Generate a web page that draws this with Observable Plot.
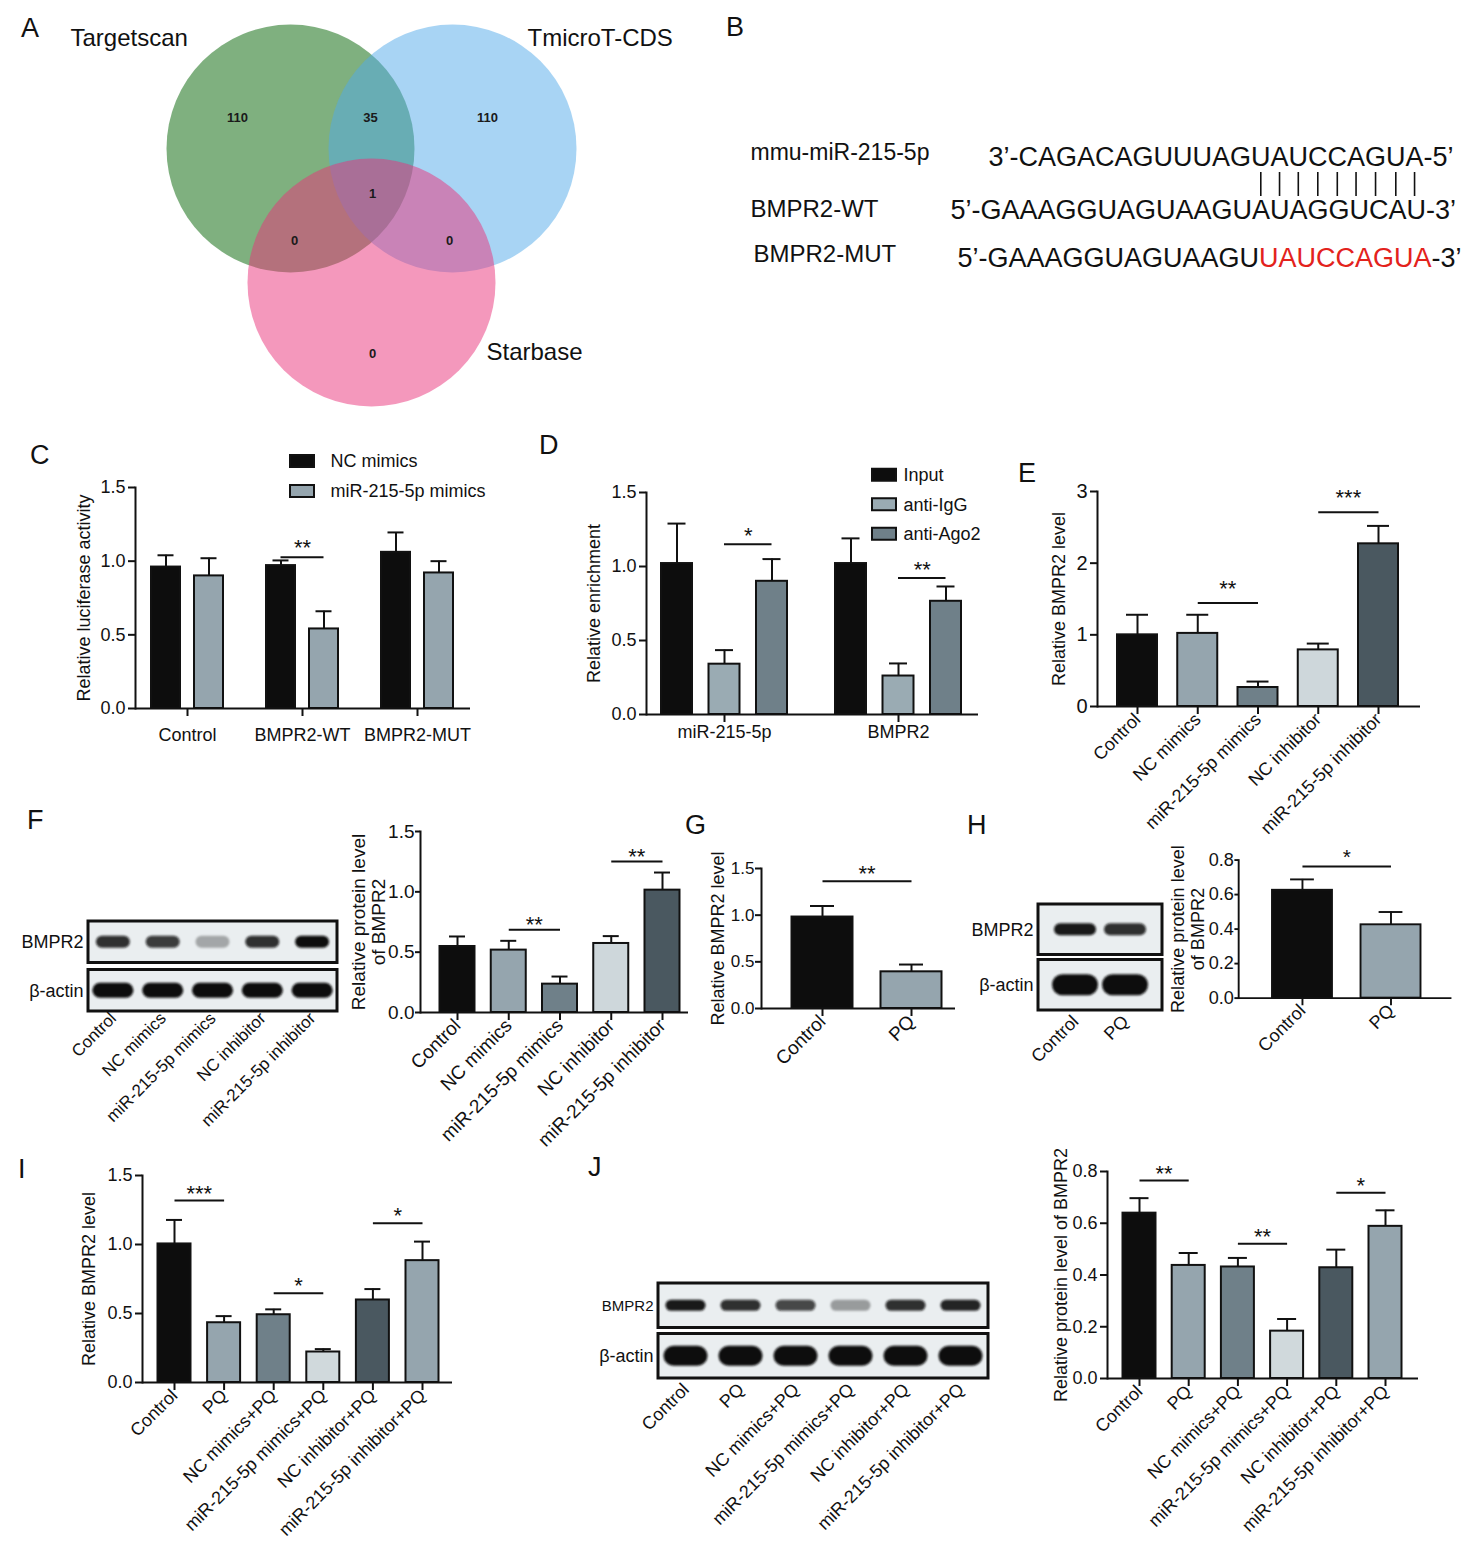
<!DOCTYPE html>
<html><head><meta charset="utf-8">
<script src="https://cdn.jsdelivr.net/npm/d3@7"></script>
<script src="https://cdn.jsdelivr.net/npm/@observablehq/plot@0.6"></script>
<style>
body{margin:0;background:#fff;}
#page{position:relative;width:1480px;height:1550px;overflow:hidden;background:#fff;font-family:"Liberation Sans",Arial,Helvetica,sans-serif;}
.panel{position:absolute;}
.letter{position:absolute;font-size:27px;line-height:1;color:#111;}
</style></head>
<body><div id="page"></div>
<script>
// ---------------- DATA ----------------
// A: Venn
const vennSets = ["Targetscan", "TmicroT-CDS", "Starbase"];
const vennRegions = ["Targetscan only", "Targetscan ∩ TmicroT-CDS", "TmicroT-CDS only", "all three", "Targetscan ∩ Starbase", "TmicroT-CDS ∩ Starbase", "Starbase only"];
const vennCounts = [110, 35, 110, 1, 0, 0, 0];
// B: sequences
const seqNames = ["mmu-miR-215-5p", "BMPR2-WT", "BMPR2-MUT"];
const seqMiR = "3’-CAGACAGUUUAGUAUCCAGUA-5’";
const seqWT = "5’-GAAAGGUAGUAAGUAUAGGUCAU-3’";
const seqMUTparts = ["5’-GAAAGGUAGUAAGU", "UAUCCAGUA", "-3’"];
const seedPairCount = 9;
// C: luciferase
const cGroups = ["Control", "BMPR2-WT", "BMPR2-MUT"];
const cSeries = ["NC mimics", "miR-215-5p mimics"];
const cNC = [0.96, 0.97, 1.06];
const cNCsem = [0.08, 0.035, 0.135];
const cMiR = [0.90, 0.54, 0.92];
const cMiRsem = [0.12, 0.12, 0.08];
const cSig = [{group: "BMPR2-WT", y: 1.026, label: "**"}];
// D: RIP
const dGroups = ["miR-215-5p", "BMPR2"];
const dSeries = ["Input", "anti-IgG", "anti-Ago2"];
const dInput = [1.02, 1.02];
const dInputSem = [0.27, 0.17];
const dIgG = [0.34, 0.26];
const dIgGsem = [0.095, 0.085];
const dAgo2 = [0.90, 0.765];
const dAgo2sem = [0.15, 0.10];
const dSig = [{group: "miR-215-5p", y: 1.15, label: "*"}, {group: "BMPR2", y: 0.923, label: "**"}];
// E / F categories
const efCats = ["Control", "NC mimics", "miR-215-5p mimics", "NC inhibitor", "miR-215-5p inhibitor"];
const eMean = [1.0, 1.02, 0.265, 0.79, 2.27];
const eSem = [0.28, 0.26, 0.083, 0.088, 0.25];
const eSig = [{from: "NC mimics", to: "miR-215-5p mimics", y: 1.444, label: "**"}, {from: "NC inhibitor", to: "miR-215-5p inhibitor", y: 2.71, label: "***"}];
const fMean = [0.547, 0.517, 0.235, 0.572, 1.014];
const fSem = [0.083, 0.077, 0.063, 0.061, 0.146];
const fSig = [{from: "NC mimics", to: "miR-215-5p mimics", y: 0.685, label: "**"}, {from: "NC inhibitor", to: "miR-215-5p inhibitor", y: 1.251, label: "**"}];
const blotRows = ["BMPR2", "β-actin"];
const fBlotBMPR2 = [0.85, 0.8, 0.3, 0.85, 1.0];
const fBlotActin = [1, 1, 1, 1, 1];
// G / H
const ghCats = ["Control", "PQ"];
const gMean = [0.98, 0.393];
const gSem = [0.118, 0.078];
const gSig = [{from: "Control", to: "PQ", y: 1.364, label: "**"}];
const hMean = [0.625, 0.425];
const hSem = [0.063, 0.074];
const hSig = [{from: "Control", to: "PQ", y: 0.763, label: "*"}];
const hBlotBMPR2 = [0.95, 0.85];
const hBlotActin = [1, 1];
// I / J
const ijCats = ["Control", "PQ", "NC mimics+PQ", "miR-215-5p mimics+PQ", "NC inhibitor+PQ", "miR-215-5p inhibitor+PQ"];
const iMean = [1.004, 0.433, 0.491, 0.221, 0.598, 0.883];
const iSem = [0.174, 0.048, 0.039, 0.021, 0.079, 0.138];
const iSig = [{from: "Control", to: "PQ", y: 1.319, label: "***"}, {from: "NC mimics+PQ", to: "miR-215-5p mimics+PQ", y: 0.646, label: "*"}, {from: "NC inhibitor+PQ", to: "miR-215-5p inhibitor+PQ", y: 1.154, label: "*"}];
const jMean = [0.639, 0.437, 0.431, 0.183, 0.428, 0.588];
const jSem = [0.058, 0.048, 0.035, 0.047, 0.07, 0.062];
const jSig = [{from: "Control", to: "PQ", y: 0.765, label: "**"}, {from: "NC mimics+PQ", to: "miR-215-5p mimics+PQ", y: 0.521, label: "**"}, {from: "NC inhibitor+PQ", to: "miR-215-5p inhibitor+PQ", y: 0.718, label: "*"}];
const jBlotBMPR2 = [0.95, 0.85, 0.75, 0.35, 0.85, 0.9];
const jBlotActin = [1, 1, 1, 1, 1, 1];
// tick values
const ticks15 = [0, 0.5, 1.0, 1.5];
const ticks3 = [0, 1, 2, 3];
const ticks08 = [0, 0.2, 0.4, 0.6, 0.8];

// ---------------- STYLE / LAYOUT ----------------
const FONT = "'Liberation Sans', Arial, Helvetica, sans-serif";
const INK = "#111";
const BLACK = "#0d0d0d", GREY = "#95a5ae", SLATE = "#6f8089", PALE = "#ced7db", DARK = "#4a5860";
const fmt1 = d3.format(".1f"), fmt0 = d3.format("d");
const page = document.getElementById("page");

function place(node, left, top) {
  const div = document.createElement("div");
  div.className = "panel";
  div.style.left = left + "px";
  div.style.top = top + "px";
  div.appendChild(node);
  page.appendChild(div);
}
function letter(ch, cx, cy) {
  const d = document.createElement("div");
  d.className = "letter";
  d.textContent = ch;
  d.style.left = (cx - 9) + "px";
  d.style.top = (cy - 14.5) + "px";
  page.appendChild(d);
}
function baseStyle(fs) {
  return {fontFamily: FONT, fontSize: fs + "px", color: INK, background: "transparent", overflow: "visible"};
}
function bandLayout(X0, X1, c0, cN, n, bw) {
  const span = X1 - X0;
  const step = n > 1 ? (cN - c0) / (n - 1) : span;
  const pi = Math.max(0, 1 - bw / step);
  const po = Math.max(0, (span / step - n + pi) / 2);
  const st = span / (n - pi + 2 * po);
  const extra = span - st * (n - pi);
  const align = extra > 0.01 ? Math.min(1, Math.max(0, (c0 - bw / 2 - X0) / extra)) : 0.5;
  return {step: st, paddingInner: pi, paddingOuter: po, align};
}
function axisMarks(c) {
  const yfs = c.yfs ?? c.fs, lfs = c.labelFs ?? c.fs;
  return [
    Plot.ruleY([0], {stroke: INK, strokeWidth: 2}),
    Plot.frame({anchor: "left", stroke: INK, strokeWidth: 2}),
    Plot.axisY(c.yTicks, {tickSize: c.yTickSize ?? 7, tickPadding: c.yTickPad ?? 3, tickFormat: c.yFmt, strokeWidth: 2, label: null, fontSize: yfs}),
    Plot.axisX({tickSize: 8, tickPadding: c.tickPadding, tickRotate: c.rotate, strokeWidth: 2, label: null, fontSize: c.fs}),
    Plot.text([c.ylabel], {text: d => d, frameAnchor: "left", textAnchor: "middle", lineAnchor: "middle", rotate: -90,
      dx: -c.ylabelOffset, fontSize: lfs, lineHeight: c.lineHeight ?? 1.1})
  ];
}

function barChart(c) {
  const mL = 100, mR = 30, mT = 50, mB = 220;
  const W = c.X1 - c.X0 + mL + mR, H = c.Ybot - c.Ytop + mT + mB;
  const L = bandLayout(c.X0, c.X1, c.c0, c.cN, c.cats.length, c.bw);
  const rows = c.cats.map((cat, i) => ({cat, mean: c.means[i], top: c.means[i] + c.sems[i], fill: c.colors[i]}));
  const capIn = (L.step * (1 - L.paddingInner) - c.cap) / 2;
  const svg = Plot.plot({
    width: W, height: H, marginLeft: mL, marginRight: mR, marginTop: mT, marginBottom: mB,
    style: baseStyle(c.fs),
    x: {domain: c.cats, paddingInner: L.paddingInner, paddingOuter: L.paddingOuter, align: L.align, round: false},
    y: {domain: [0, c.yMax]},
    color: {type: "identity"},
    marks: [
      Plot.barY(rows, {x: "cat", y: "mean", fill: "fill", stroke: INK, strokeWidth: 2}),
      Plot.ruleX(rows, {x: "cat", y1: "mean", y2: "top", stroke: INK, strokeWidth: 2}),
      Plot.tickY(rows, {x: "cat", y: "top", stroke: INK, strokeWidth: 2, insetLeft: capIn, insetRight: capIn}),
      ...axisMarks(c),
      Plot.link(c.sig, {x1: "from", x2: "to", y1: "y", y2: "y", stroke: INK, strokeWidth: 2}),
      Plot.text(c.sig, {x: "from", y: "y", text: "label", dx: L.step / 2, dy: c.starDy, fontSize: 22})
    ]
  });
  place(svg, c.X0 - mL, c.Ytop - mT);
}

function groupedChart(c) {
  const mL = 100, mR = 30, mT = 50, mB = 80;
  const W = c.X1 - c.X0 + mL + mR, H = c.Ybot - c.Ytop + mT + mB;
  const L = bandLayout(c.X0, c.X1, c.c0, c.cN, c.groups.length, c.bwG);
  const half = L.step * (1 - L.paddingInner) / 2;
  const marks = [];
  c.series.forEach((s, k) => {
    const off = c.offsets[k];
    const rows = c.groups.map((g, i) => ({g, mean: c.means[k][i], top: c.means[k][i] + c.sems[k][i]}));
    marks.push(
      Plot.barY(rows, {x: "g", y: "mean", fill: c.colors[k], stroke: INK, strokeWidth: 2, insetLeft: half + off - c.w / 2, insetRight: half - off - c.w / 2}),
      Plot.ruleX(rows, {x: "g", y1: "mean", y2: "top", dx: off, stroke: INK, strokeWidth: 2}),
      Plot.tickY(rows, {x: "g", y: "top", stroke: INK, strokeWidth: 2, insetLeft: half + off - c.cap / 2, insetRight: half - off - c.cap / 2})
    );
  });
  const oa = c.offsets[c.sigPair[0]], ob = c.offsets[c.sigPair[1]];
  marks.push(
    ...axisMarks(c),
    Plot.ruleY(c.sig, {x1: "group", x2: "group", y: "y", stroke: INK, strokeWidth: 2, insetLeft: half + oa, insetRight: half - ob}),
    Plot.text(c.sig, {x: "group", y: "y", text: "label", dx: (oa + ob) / 2, dy: c.starDy, fontSize: 22})
  );
  const svg = Plot.plot({
    width: W, height: H, marginLeft: mL, marginRight: mR, marginTop: mT, marginBottom: mB,
    style: baseStyle(c.fs),
    x: {domain: c.groups, paddingInner: L.paddingInner, paddingOuter: L.paddingOuter, align: L.align, round: false},
    y: {domain: [0, c.yMax]},
    marks
  });
  place(svg, c.X0 - mL, c.Ytop - mT);
}

function legend(c) {
  const n = c.labels.length, W = 240, Hh = n * c.spacing;
  const svg = Plot.plot({
    width: W, height: Hh, margin: 0,
    style: baseStyle(18),
    y: {domain: c.labels, padding: 0, round: false, axis: null},
    color: {type: "identity"},
    marks: [
      Plot.cell(c.labels, {y: d => d, fill: (d, i) => c.colors[i], stroke: INK, strokeWidth: 2,
        insetRight: W - c.sw, insetTop: (c.spacing - c.sh) / 2, insetBottom: (c.spacing - c.sh) / 2}),
      Plot.text(c.labels, {y: d => d, text: d => d, frameAnchor: "left", textAnchor: "start", dx: c.textOffset, fontSize: 18})
    ]
  });
  place(svg, c.left, c.firstCenter - c.spacing / 2);
}

let filterId = 0;
function blot(c) {
  const mL = 100, mR = 20, mT = 10, mB = 230;
  const W = c.X1 - c.X0 + mL + mR, H = c.Y1 - c.Y0 + mT + mB;
  const rowStep = (c.Y1 - c.Y0 + c.gap) / 2;
  const rowH = rowStep - c.gap;
  const laneStep = (c.X1 - c.X0) / (c.lanes.length + 2 * c.lanePadOuter);
  const bandMarks = c.rows.map((r, k) => {
    const bands = c.lanes.map((l, i) => ({lane: l, row: r, level: c.levels[k][i]}));
    return Plot.cell(bands, {x: "lane", y: "row", fill: "#0e0e0e", fillOpacity: "level",
      insetLeft: (laneStep - c.bandW[k]) / 2, insetRight: (laneStep - c.bandW[k]) / 2,
      insetTop: (rowH - c.bandH[k]) / 2, insetBottom: (rowH - c.bandH[k]) / 2,
      rx: c.bandH[k] / 2, ariaDescription: "bands"});
  });
  const svg = Plot.plot({
    width: W, height: H, marginLeft: mL, marginRight: mR, marginTop: mT, marginBottom: mB,
    style: baseStyle(c.laneFs),
    x: {domain: c.lanes, paddingInner: 0, paddingOuter: c.lanePadOuter, round: false},
    y: {domain: c.rows, paddingInner: c.gap / rowStep, paddingOuter: 0, round: false, axis: null},
    opacity: {type: "identity"},
    marks: [
      Plot.cell(c.rows, {y: d => d, fill: "#eaeef0", stroke: INK, strokeWidth: 3}),
      ...bandMarks,
      Plot.axisX({tickSize: 0, tickPadding: c.lanePad, tickRotate: -45, fontSize: c.laneFs, label: null}),
      Plot.text(c.rows, {y: d => d, text: d => d, frameAnchor: "left", textAnchor: "end", dx: -5, fontSize: (d, i) => c.labelSizes[i]})
    ]
  });
  const sel = d3.select(svg);
  const id = "bandblur" + (filterId++);
  const f = sel.append("defs").append("filter").attr("id", id)
    .attr("x", "-30%").attr("y", "-80%").attr("width", "160%").attr("height", "260%");
  f.append("feGaussianBlur").attr("stdDeviation", 1.2);
  sel.selectAll('g[aria-description="bands"]').attr("filter", `url(#${id})`);
  place(svg, c.X0 - mL, c.Y0 - mT);
}

// ---------------- PANEL A: Venn ----------------
const vennCenters = [[290, 148], [452, 148], [371, 282]];
const vennRadius = 124;
const vennFill = ["#006100", "#51a9e9", "#e9317a"];
const vennCountPos = [[237, 117], [370, 117], [487, 117], [372, 193], [294, 240], [449, 240], [372, 353]];
const vennNamePos = [[70, 38], [527, 38], [486, 352]];
{
  const svg = Plot.plot({
    width: 700, height: 420, margin: 0,
    style: baseStyle(24),
    x: {domain: [0, 700], range: [0, 700], axis: null},
    y: {domain: [0, 420], range: [0, 420], axis: null},
    color: {type: "identity"},
    marks: [
      Plot.dot(vennSets, {x: (d, i) => vennCenters[i][0], y: (d, i) => vennCenters[i][1], r: vennRadius, fill: (d, i) => vennFill[i], fillOpacity: 0.5}),
      Plot.text(vennCounts, {x: (d, i) => vennCountPos[i][0], y: (d, i) => vennCountPos[i][1], text: d => String(d),
        fontSize: 13, fontWeight: "bold", fontFamily: "'Liberation Sans Narrow', 'Liberation Sans', Arial", fill: "#1a1a1a", title: (d, i) => vennRegions[i]}),
      Plot.text(vennSets, {x: (d, i) => vennNamePos[i][0], y: (d, i) => vennNamePos[i][1], text: d => d, textAnchor: "start", fontSize: 24})
    ]
  });
  place(svg, 0, 0);
}

// ---------------- PANEL B: sequences ----------------
{
  const seqFont = "27px 'Liberation Sans'";
  const ctx = document.createElement("canvas").getContext("2d");
  ctx.font = seqFont;
  const w = s => ctx.measureText(s).width;
  const nameX = [750, 750, 753], nameY = [152, 209, 254], nameFs = [23, 24, 24];
  const seqX = [988, 950, 957], seqY = [157, 210, 258];
  const segs = [
    {s: seqMiR, x: seqX[0], y: seqY[0], color: INK},
    {s: seqWT, x: seqX[1], y: seqY[1], color: INK}
  ];
  let xx = seqX[2];
  seqMUTparts.forEach((p, i) => { segs.push({s: p, x: xx, y: seqY[2], color: i === 1 ? "#e3221c" : INK}); xx += w(p); });
  const endIdx = seqMiR.length - 3; // before "-5’"
  const pairX = d3.range(endIdx - seedPairCount, endIdx).map(i => seqX[0] + w(seqMiR.slice(0, i)) + w(seqMiR[i]) / 2);
  const svg = Plot.plot({
    width: 740, height: 160, margin: 0,
    style: baseStyle(24),
    x: {domain: [740, 1480], range: [0, 740], axis: null},
    y: {domain: [120, 280], range: [0, 160], axis: null},
    color: {type: "identity"},
    marks: [
      Plot.text(seqNames, {x: (d, i) => nameX[i], y: (d, i) => nameY[i], text: d => d, textAnchor: "start", fontSize: (d, i) => nameFs[i]}),
      Plot.text(segs, {x: "x", y: "y", text: "s", fill: "color", textAnchor: "start", fontSize: 27}),
      Plot.ruleX(pairX, {x: d => d, y1: 172, y2: 196, stroke: INK, strokeWidth: 1.6})
    ]
  });
  place(svg, 740, 120);
}

// ---------------- PANEL C ----------------
groupedChart({X0: 135, X1: 470, Ytop: 487, Ybot: 708, yMax: 1.5, yTicks: ticks15, yFmt: fmt1,
  groups: cGroups, series: cSeries, means: [cNC, cMiR], sems: [cNCsem, cMiRsem], colors: [BLACK, GREY],
  c0: 187, cN: 417, bwG: 103, offsets: [-21.5, 21.5], w: 29, cap: 16,
  sig: cSig, sigPair: [0, 1], starDy: -9.5, ylabel: "Relative luciferase activity", ylabelOffset: 52,
  tickPadding: 12, rotate: 0, fs: 18});
legend({labels: cSeries, colors: [BLACK, GREY], left: 290, firstCenter: 461, spacing: 30, textOffset: 40, sw: 24, sh: 12});

// ---------------- PANEL D ----------------
groupedChart({X0: 646, X1: 978, Ytop: 492, Ybot: 714, yMax: 1.5, yTicks: ticks15, yFmt: fmt1,
  groups: dGroups, series: dSeries, means: [dInput, dIgG, dAgo2], sems: [dInputSem, dIgGsem, dAgo2sem], colors: [BLACK, "#9aabb3", SLATE],
  c0: 724, cN: 898, bwG: 150, offsets: [-47.5, 0, 47.5], w: 31, cap: 18,
  sig: dSig, sigPair: [1, 2], starDy: -8, ylabel: "Relative enrichment", ylabelOffset: 53,
  tickPadding: 3, rotate: 0, fs: 18});
legend({labels: dSeries, colors: [BLACK, "#9aabb3", SLATE], left: 872, firstCenter: 475, spacing: 29.5, textOffset: 31, sw: 24, sh: 12});

// ---------------- PANEL E ----------------
barChart({X0: 1097, X1: 1420, Ytop: 491, Ybot: 706, yMax: 3, yTicks: ticks3, yFmt: fmt0,
  cats: efCats, means: eMean, sems: eSem, colors: [BLACK, GREY, SLATE, PALE, DARK],
  c0: 1137, cN: 1378, bw: 40, cap: 22, sig: eSig, starDy: -14,
  ylabel: "Relative BMPR2 level", ylabelOffset: 39, tickPadding: 2, rotate: -45, fs: 18, yfs: 20});

// ---------------- PANEL F ----------------
blot({X0: 88, X1: 337, Y0: 921, Y1: 1011, gap: 7, lanes: efCats, rows: blotRows, levels: [fBlotBMPR2, fBlotActin],
  lanePadOuter: 0, bandW: [34, 41], bandH: [12, 15], labelSizes: [18, 18], laneFs: 17, lanePad: 4});
barChart({X0: 420, X1: 688, Ytop: 831, Ybot: 1012, yMax: 1.5, yTicks: ticks15, yFmt: fmt1,
  cats: efCats, means: fMean, sems: fSem, colors: [BLACK, GREY, SLATE, PALE, DARK],
  c0: 457, cN: 662, bw: 35, cap: 16, sig: fSig, starDy: -5,
  ylabel: "Relative protein level\nof BMPR2", ylabelOffset: 52, lineHeight: 1.05, yTickSize: 5, yTickPad: 1,
  tickPadding: 2, rotate: -45, fs: 19});

// ---------------- PANEL G ----------------
barChart({X0: 761, X1: 955, Ytop: 868, Ybot: 1008, yMax: 1.5, yTicks: ticks15, yFmt: fmt1,
  cats: ghCats, means: gMean, sems: gSem, colors: [BLACK, GREY],
  c0: 822, cN: 911, bw: 61, cap: 24, sig: gSig, starDy: -7.5,
  ylabel: "Relative BMPR2 level", ylabelOffset: 44, yfs: 17, yTickSize: 6, yTickPad: 1,
  tickPadding: 2, rotate: -45, fs: 19, labelFs: 18});

// ---------------- PANEL H ----------------
blot({X0: 1038, X1: 1162, Y0: 904, Y1: 1010, gap: 5, lanes: ghCats, rows: blotRows, levels: [hBlotBMPR2, hBlotActin],
  lanePadOuter: 0.24, bandW: [42, 46], bandH: [12, 21], labelSizes: [18, 18], laneFs: 18, lanePad: 8});
barChart({X0: 1243, X1: 1467, Ytop: 862, Ybot: 1007, yMax: 0.8, yTicks: ticks08, yFmt: fmt1,
  cats: ghCats, means: hMean, sems: hSem, colors: [BLACK, GREY],
  c0: 1310, cN: 1403, bw: 63, cap: 25, sig: hSig, starDy: -10,
  ylabel: "Relative protein level\nof BMPR2", ylabelOffset: 54, lineHeight: 1.15, yTickSize: 4, yTickPad: 1,
  tickPadding: 2, rotate: -45, fs: 19});

// ---------------- PANEL I ----------------
barChart({X0: 142, X1: 452, Ytop: 1175, Ybot: 1382, yMax: 1.5, yTicks: ticks15, yFmt: fmt1,
  cats: ijCats, means: iMean, sems: iSem, colors: [BLACK, GREY, SLATE, "#d0d9dc", DARK, GREY],
  c0: 174, cN: 422, bw: 33, cap: 16, sig: iSig, starDy: -7,
  ylabel: "Relative BMPR2 level", ylabelOffset: 54, tickPadding: 2, rotate: -45, fs: 18});

// ---------------- PANEL J ----------------
blot({X0: 658, X1: 988, Y0: 1283, Y1: 1378, gap: 6, lanes: ijCats, rows: blotRows, levels: [jBlotBMPR2, jBlotActin],
  lanePadOuter: 0, bandW: [40, 44], bandH: [11, 20], labelSizes: [15, 18], laneFs: 18, lanePad: 8});
barChart({X0: 1107, X1: 1418, Ytop: 1171, Ybot: 1378, yMax: 0.8, yTicks: ticks08, yFmt: fmt1,
  cats: ijCats, means: jMean, sems: jSem, colors: [BLACK, GREY, SLATE, "#d0d9dc", DARK, GREY],
  c0: 1139, cN: 1385, bw: 33, cap: 19, sig: jSig, starDy: -6.5,
  ylabel: "Relative protein level of BMPR2", ylabelOffset: 47, tickPadding: 2, rotate: -45, fs: 18});

// ---------------- panel letters ----------------
[["A", 30, 29], ["B", 735, 28], ["C", 39, 456], ["D", 548, 446], ["E", 1027, 474], ["F", 36, 821],
 ["G", 694, 826], ["H", 976, 826], ["I", 27, 1170], ["J", 597, 1168]].forEach(([ch, x, y]) => letter(ch, x, y));
</script>
</body></html>
